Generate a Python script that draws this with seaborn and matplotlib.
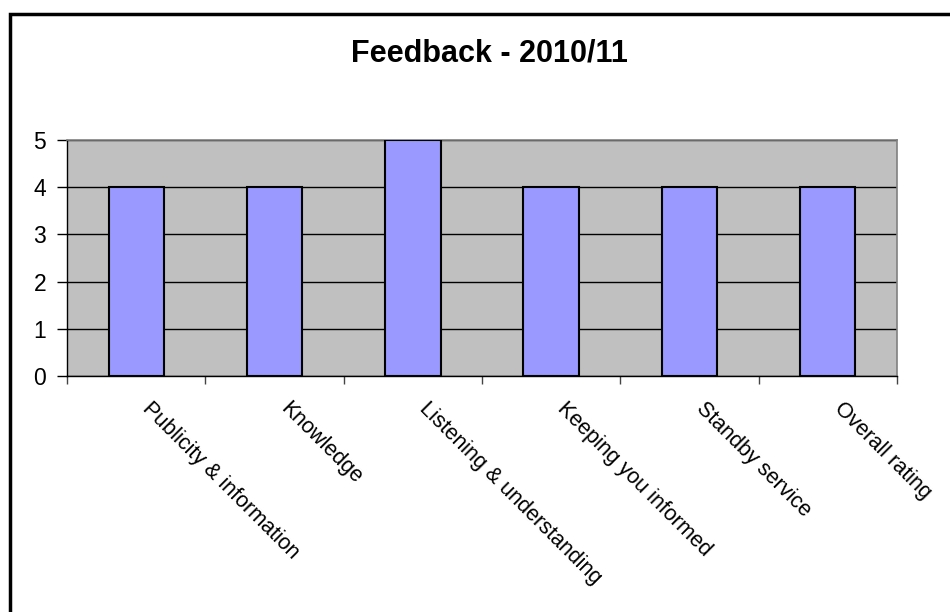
import matplotlib
matplotlib.use("Agg")
import matplotlib.pyplot as plt
import seaborn as sns
import pandas as pd
import numpy as np
from matplotlib.patches import Rectangle
from matplotlib.transforms import ScaledTranslation

categories = ["Publicity & information", "Knowledge", "Listening & understanding",
              "Keeping you informed", "Standby service", "Overall rating"]
values = [4, 4, 5, 4, 4, 4]
y_ticks = [0, 1, 2, 3, 4, 5]
title = "Feedback - 2010/11"

sns.set_theme(style="white")
plt.rcParams['font.family'] = ['Liberation Sans', 'DejaVu Sans']
plt.rcParams['text.color'] = 'black'
plt.rcParams['xtick.color'] = 'black'
plt.rcParams['ytick.color'] = 'black'
plt.rcParams['axes.labelcolor'] = 'black'

df = pd.DataFrame({"category": categories, "value": values})

fig = plt.figure(figsize=(9.5, 6.12), dpi=100)
fig.patch.set_facecolor("white")
# outer chart border (top and left visible)
fig.patches.append(Rectangle((9.5/950, -0.1), 1.2, 1 - 13.5/612 + 0.1,
                             transform=fig.transFigure, fill=False,
                             edgecolor="black", linewidth=2.5, zorder=0))

ax = fig.add_axes([67/950, 1 - 376/612, (897 - 67)/950, (376 - 140)/612])
ax.set_facecolor("#C0C0C0")

sns.barplot(data=df, x="category", y="value", ax=ax, color="#9999FF",
            width=0.4, edgecolor="black", linewidth=1.5, saturation=1, zorder=3)
for p in ax.patches:
    p.set_facecolor("#9999FF")

ax.set_xlim(-0.5, len(categories) - 0.5)
ax.set_ylim(0, 5)
ax.set_yticks(y_ticks)
ax.yaxis.grid(True, color="black", linewidth=1, zorder=1)
ax.set_axisbelow(True)
ax.set_xlabel("")
ax.set_ylabel("")

for side in ["top", "right"]:
    ax.spines[side].set_visible(True)
    ax.spines[side].set_color("#808080")
    ax.spines[side].set_linewidth(1.2)
for side in ["left", "bottom"]:
    ax.spines[side].set_visible(True)
    ax.spines[side].set_color("black")
    ax.spines[side].set_linewidth(1.0)

ax.tick_params(axis="y", which="major", direction="out", length=7, width=1,
               color="black", labelsize=16.5, pad=8, left=True, labelcolor="black")
ax.set_xticks(np.arange(-0.5, len(categories), 1.0), minor=True)
ax.tick_params(axis="x", which="minor", direction="out", length=6, width=1,
               color="#444444", bottom=True)
ax.tick_params(axis="x", which="major", length=0, pad=0, labelsize=15.5,
               labelcolor="black")
ax.set_xticks(range(len(categories)))
ax.set_xticklabels(categories, rotation=-45, ha="left", va="top",
                   rotation_mode="anchor")
offset = ScaledTranslation(0.17, -0.22, fig.dpi_scale_trans)
for lab in ax.get_xticklabels():
    lab.set_transform(lab.get_transform() + offset)

fig.text(489/950, 1 - 53/612, title, ha="center", va="center",
         fontsize=22, fontweight="bold", color="black")

fig.savefig("out.png", dpi=100)
